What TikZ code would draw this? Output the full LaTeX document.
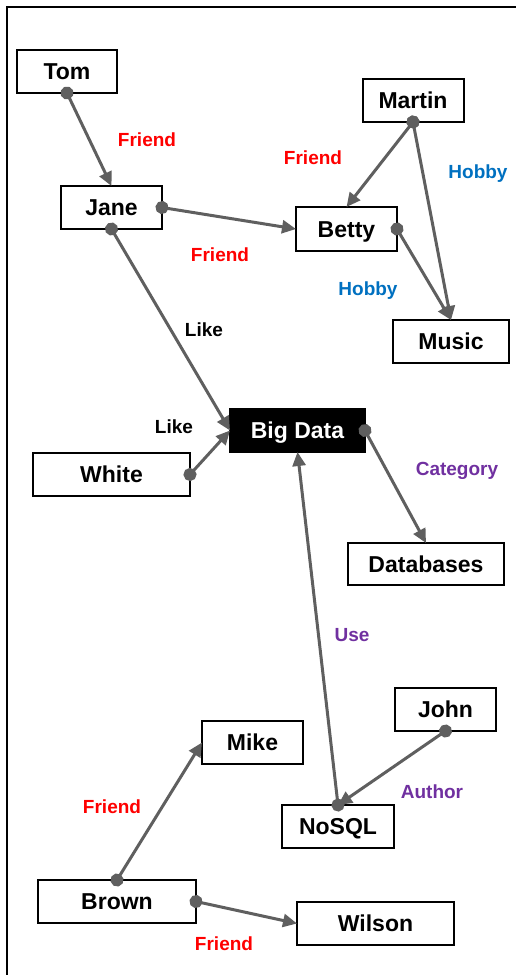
\documentclass[tikz,border=0pt]{standalone}
\usepackage{fontspec}
\setmainfont{Liberation Sans}
\usetikzlibrary{arrows.meta}
\definecolor{conn}{HTML}{5F5F5F}
\definecolor{lblred}{HTML}{FF0000}
\definecolor{lblblue}{HTML}{0070C0}
\definecolor{lblpurple}{HTML}{7030A0}
\begin{document}
\begin{tikzpicture}[x=1pt,y=-1pt,
  box/.style={draw=black, line width=2pt, fill=white, minimum height=43pt, inner sep=0pt, outer sep=0pt,
    font=\bfseries\fontsize{23}{23}\selectfont, text height=16.5pt, text depth=0pt},
  dark/.style={box, fill=black, text=white},
  rel/.style={draw=conn, line width=3pt, shorten <=-6.5pt,
    {Circle[length=13pt]}-{Triangle[length=14pt,width=13pt]}},
  lbl/.style={font=\bfseries\fontsize{19}{19}\selectfont, inner sep=0pt, text height=13.6pt, text depth=0pt}
]
\useasboundingbox (0,0) rectangle (516,975);
\draw[line width=2pt, black] (6.5,990) -- (6.5,6.5) -- (530,6.5);

% nodes
\node[box, minimum width=100pt] (tom) at (67,71.5) {Tom};
\node[box, minimum width=101pt] (jane) at (111.5,207.5) {Jane};
\node[box, minimum width=101pt] (martin) at (413,100.5) {Martin};
\node[box, minimum width=101pt, minimum height=44pt] (betty) at (346.5,229) {Betty};
\node[box, minimum width=116pt] (music) at (451,341.5) {Music};
\node[dark, minimum width=135pt] (bigdata) at (297.5,430.5) {Big Data};
\node[box, minimum width=157pt] (white) at (111.5,474.5) {White};
\node[box, minimum width=156pt, minimum height=42pt] (databases) at (426,564) {Databases};
\node[box, minimum width=101pt] (john) at (445.5,709.5) {John};
\node[box, minimum width=101pt] (mike) at (252.5,742.5) {Mike};
\node[box, minimum width=112pt] (nosql) at (338,826.5) {NoSQL};
\node[box, minimum width=158pt] (brown) at (117,901.5) {Brown};
\node[box, minimum width=157pt] (wilson) at (375.5,923.5) {Wilson};

% connectors
\draw[rel] (tom.south) -- (jane.north);
\draw[rel] (jane.east) -- (betty.west);
\draw[rel] (martin.south) -- (betty.north);
\draw[rel] (martin.south) -- (music.north);
\draw[rel] (betty.east) -- (music.north);
\draw[rel] (jane.south) -- (bigdata.west);
\draw[rel] (white.east) -- (bigdata.west);
\draw[rel] (bigdata.east) -- (databases.north);
\draw[rel] (nosql.north) -- (bigdata.south);
\draw[rel] (john.south) -- (nosql.north);
\draw[rel] (brown.north) -- (mike.west);
\draw[rel] (brown.east) -- (wilson.west);

% labels
\node[lbl, text=lblred] (l1) at (147,140) {Friend};
\node[lbl, text=lblred] (l2) at (313,158) {Friend};
\node[lbl, text=lblblue] (l3) at (478,172) {Hobby};
\node[lbl, text=lblred] (l4) at (220,255) {Friend};
\node[lbl, text=lblblue] (l5) at (368,289) {Hobby};
\node[lbl, text=black] (l6) at (204,330) {Like};
\node[lbl, text=black] (l7) at (174,427) {Like};
\node[lbl, text=lblpurple] (l8) at (457,469) {Category};
\node[lbl, text=lblpurple] (l9) at (352,635) {Use};
\node[lbl, text=lblpurple] (l10) at (432,792) {Author};
\node[lbl, text=lblred] (l11) at (112,807) {Friend};
\node[lbl, text=lblred] (l12) at (224,944) {Friend};
\end{tikzpicture}
\end{document}
